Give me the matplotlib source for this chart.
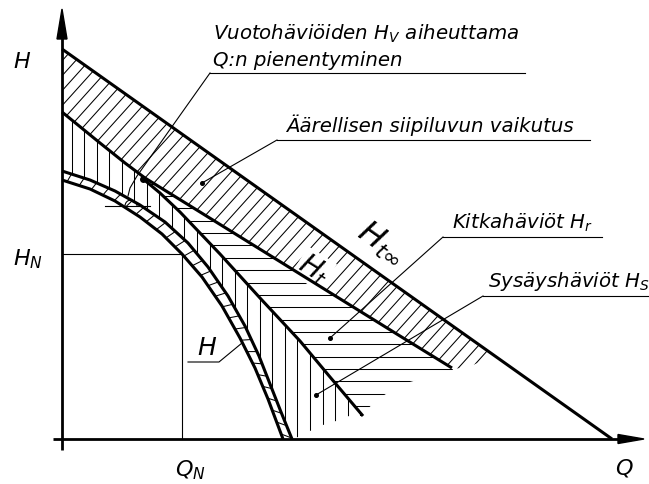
import numpy as np
import matplotlib
matplotlib.use("Agg")
import matplotlib.pyplot as plt
from matplotlib.patches import Polygon, Arc
from matplotlib.collections import LineCollection

# ---- curve data (Q to the right, H upwards, origin at the axis cross) ----
# theoretical head, infinite number of blades
q_inf = [0, 550]
h_inf = [390, 0]
# theoretical head, finite number of blades
q_t = [0, 38, 63, 83, 138, 238, 338, 390]
h_t = [327, 296, 276, 261, 227, 165, 103, 71]
# head after friction losses
q_r = [80, 98, 118, 158, 198, 238, 268, 301]
h_r = [261, 246, 227, 185, 141, 98, 62, 23]
# real pump curve H (after leakage) and the curve before the leakage shift
q_h = [0, 28, 53, 78, 100, 120, 140, 160, 178, 193, 206, 221]
h_h = [259, 250, 238, 222, 205, 185, 162, 133, 101, 71, 40, 0]
q_hl = [0, 28, 53, 78, 103, 126, 146, 166, 183, 197, 208, 219, 230]
h_hl = [268, 259, 248, 234, 217, 196, 172, 143, 113, 83, 55, 27, 0]
# nominal operating point
q_n, h_n = 120, 185
# open ends of the shock-loss and friction-loss hatching
q_s_tail = [230, 236, 248, 261, 274, 287, 301]
h_s_tail = [0, 2, 8, 14, 18, 23, 23]
q_r_tail = [308, 323, 346, 391]
h_r_tail = [32.5, 44.5, 56.5, 69]
q_t_tail = [391, 406, 433]
h_t_tail = [70, 72, 83]

labels = {
    "leak1": "Vuotohäviöiden $H_V$ aiheuttama",
    "leak2": "Q:n pienentyminen",
    "blade": "Äärellisen siipiluvun vaikutus",
    "fric": "Kitkahäviöt $H_r$",
    "shock": "Sysäyshäviöt $H_S$",
}

W, H = 649, 485
fig = plt.figure(figsize=(W / 100, H / 100), dpi=100)
ax = fig.add_axes([0, 0, 1, 1])
ax.set_xlim(-62, 587)
ax.set_ylim(-45, 440)
ax.axis("off")

THICK = 2.2
THIN = 0.8
HATCH = 0.75


def hatch(xy, angle, spacing, offset=0.0):
    xy = np.asarray(xy, float)
    poly = Polygon(xy, closed=True, facecolor="none", edgecolor="none")
    ax.add_patch(poly)
    th = np.radians(angle)
    d = np.array([np.cos(th), np.sin(th)])
    n = np.array([-np.sin(th), np.cos(th)])
    proj = xy @ n
    k0 = int(np.floor((proj.min() - offset) / spacing)) - 1
    k1 = int(np.ceil((proj.max() - offset) / spacing)) + 1
    segs = []
    for k in range(k0, k1 + 1):
        p = (offset + k * spacing) * n
        segs.append([p - 2000 * d, p + 2000 * d])
    lc = LineCollection(segs, colors="black", linewidths=HATCH, zorder=1)
    ax.add_collection(lc)
    lc.set_clip_path(poly)


qt, ht = np.array(q_t, float), np.array(h_t, float)
qr, hr = np.array(q_r, float), np.array(h_r, float)
qh, hh = np.array(q_h, float), np.array(h_h, float)
qhl, hhl = np.array(q_hl, float), np.array(h_hl, float)

# blade-number effect: between H_t_inf and H_t
poly_blade = np.vstack([
    np.column_stack([q_inf[:1], h_inf[:1]]),
    np.column_stack([q_t_tail[::-1], h_t_tail[::-1]]),
    np.column_stack([qt[::-1], ht[::-1]]),
])
hatch(poly_blade, 48, 10.0, 3.0)

# friction losses: between H_t and the friction curve
i_split = 3
poly_fric = np.vstack([
    np.column_stack([qt[i_split:], ht[i_split:]]),
    np.column_stack([q_r_tail[::-1], h_r_tail[::-1]]),
    np.column_stack([qr[::-1], hr[::-1]]),
])
hatch(poly_fric, 0, 12.35, 33.0)

# shock losses: between the friction curve and the curve before leakage
poly_shock = np.vstack([
    np.column_stack([qt[:i_split + 1], ht[:i_split + 1]]),
    np.column_stack([qr[1:], hr[1:]]),
    np.column_stack([q_s_tail[::-1], h_s_tail[::-1]]),
    np.column_stack([qhl[::-1], hhl[::-1]]),
])
hatch(poly_shock, 90, 12.55, -9.5)


# leakage band: short rungs between the two H curves
def arc_param(q, h):
    s = np.concatenate([[0], np.cumsum(np.hypot(np.diff(q), np.diff(h)))])
    return s / s[-1]


si, so = arc_param(qh, hh), arc_param(qhl, hhl)
rungs = []
for s in np.linspace(0.015, 0.985, 28):
    a = (np.interp(s, si, qh), np.interp(s, si, hh))
    b = (np.interp(min(s + 0.012, 1), so, qhl), np.interp(min(s + 0.012, 1), so, hhl))
    rungs.append([a, b])
ax.add_collection(LineCollection(rungs, colors="black", linewidths=HATCH, zorder=1))

# main curves
kw = dict(color="black", lw=THICK, solid_capstyle="butt", solid_joinstyle="round", zorder=3)
ax.plot(q_inf, h_inf, **kw)
ax.plot(q_t, h_t, **kw)
ax.plot(q_r, h_r, **kw)
ax.plot(q_h, h_h, **kw)
ax.plot(q_hl, h_hl, **kw)

# nominal point guides
ax.plot([0, q_n], [h_n, h_n], color="black", lw=THIN, zorder=2)
ax.plot([q_n, q_n], [0, h_n], color="black", lw=THIN, zorder=2)

# axes with arrows
ax.plot([0, 0], [-11, 402], color="black", lw=2.0, zorder=4, solid_capstyle="butt")
ax.plot([-9, 0], [0, 0], color="black", lw=2.0, zorder=4, solid_capstyle="butt")
ax.plot([0, 558], [0, 0], color="black", lw=2.0, zorder=4, solid_capstyle="butt")
ax.add_patch(Polygon([[-5, 400], [5, 400], [0, 430]], closed=True, color="black", zorder=4))
ax.add_patch(Polygon([[556, 4.5], [556, -4.5], [582, 0]], closed=True, color="black", zorder=4))

# leaders, underlines and dots
lk = dict(color="black", lw=THIN, zorder=2)
ax.plot([148, 463], [366, 366], **lk)
ax.plot([148, 75, 68, 66], [366, 263, 251, 243], **lk)
ax.plot([43, 88], [233, 233], **lk)
ax.add_patch(Arc((69, 233), 12, 12, theta1=0, theta2=180, color="black", lw=THIN, zorder=2))
ax.plot([81], [260], "o", color="black", ms=4, zorder=4)

ax.plot([215, 528], [299, 299], **lk)
ax.plot([215, 140], [299, 256], **lk)
ax.plot([140], [256], "o", color="black", ms=2.6, zorder=4)

ax.plot([381, 540], [202, 202], **lk)
ax.plot([381, 268], [202, 101], **lk)
ax.plot([268], [101], "o", color="black", ms=2.6, zorder=4)

ax.plot([421, 587], [143, 143], **lk)
ax.plot([421, 254], [143, 44], **lk)
ax.plot([254], [44], "o", color="black", ms=2.6, zorder=4)

ax.plot([126, 157, 180], [77, 77, 96], **lk)

# texts
tk = dict(style="italic", color="black", family="DejaVu Sans", ha="left", va="baseline")
FS = 14.2
ax.text(151, 400, labels["leak1"], fontsize=FS, **tk)
ax.text(151, 374, labels["leak2"], fontsize=FS, **tk)
ax.text(224, 308, labels["blade"], fontsize=FS, **tk)
ax.text(390, 211, labels["fric"], fontsize=FS, **tk)
ax.text(426, 153, labels["shock"], fontsize=FS, **tk)

ax.text(-49, 372, "$H$", fontsize=16, **tk)
ax.text(-49, 175, "$H_N$", fontsize=16, **tk)
ax.text(113, -36, "$Q_N$", fontsize=16, **tk)
ax.text(553, -35, "$Q$", fontsize=16, **tk)
ax.text(135, 85, "$H$", fontsize=18, **tk)

ax.text(319, 196, r"$H_{t\infty}$", fontsize=23, rotation=-35.3, rotation_mode="anchor",
        ha="center", va="center", color="black", zorder=3)
ax.text(252, 170, r"$H_t$", fontsize=20, rotation=-32, rotation_mode="anchor",
        ha="center", va="center", color="black", zorder=2,
        bbox=dict(boxstyle="square,pad=0.05", facecolor="white", edgecolor="none"))

fig.savefig("out.png", dpi=100, facecolor="white")
